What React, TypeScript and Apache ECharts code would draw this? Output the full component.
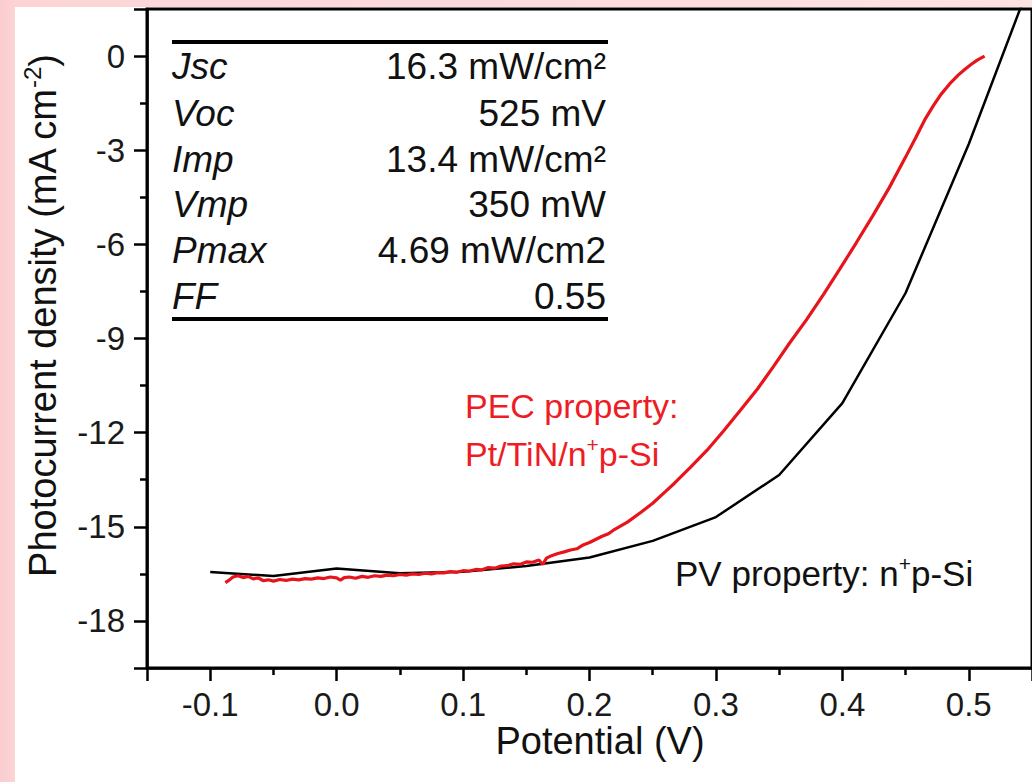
import React, { useEffect, useRef } from "react";
import * as echarts from "echarts";

// PV property: n+p-Si (black, piecewise)
const pvPotential = [-0.1, -0.05, 0, 0.05, 0.1, 0.15, 0.2, 0.25, 0.3, 0.35, 0.4, 0.45, 0.5, 0.55];
const pvCurrent = [-16.44, -16.57, -16.33, -16.48, -16.43, -16.25, -15.98, -15.45, -14.69, -13.35, -11.06, -7.55, -2.8, 2.5];

// PEC property: Pt/TiN/n+p-Si (red, measured)
const pecPotential = [
  -0.088, -0.085, -0.082, -0.078, -0.074, -0.07, -0.066, -0.062, -0.058, -0.054,
  -0.05, -0.045, -0.04, -0.035, -0.03, -0.025, -0.02, -0.015, -0.01, -0.005,
  0.0, 0.003, 0.006, 0.01, 0.015, 0.02, 0.025, 0.03, 0.035, 0.04,
  0.045, 0.05, 0.055, 0.06, 0.065, 0.07, 0.075, 0.08, 0.085, 0.09,
  0.095, 0.1, 0.105, 0.11, 0.115, 0.12, 0.125, 0.13, 0.135, 0.14,
  0.145, 0.15, 0.155, 0.16, 0.163, 0.166, 0.17, 0.175, 0.18, 0.185,
  0.19, 0.195, 0.2, 0.21, 0.215, 0.22, 0.23, 0.241, 0.25, 0.26,
  0.267, 0.28, 0.293, 0.306, 0.3195, 0.333, 0.3456, 0.358, 0.3717, 0.385,
  0.3978, 0.411, 0.4239, 0.437, 0.45, 0.458, 0.4656, 0.472, 0.478, 0.485,
  0.4918, 0.497, 0.502, 0.507, 0.5125,
];
const pecCurrent = [
  -16.78, -16.7, -16.6, -16.56, -16.62, -16.58, -16.66, -16.63, -16.72, -16.69,
  -16.73, -16.68, -16.71, -16.67, -16.69, -16.65, -16.67, -16.63, -16.65, -16.6,
  -16.63, -16.7, -16.62, -16.6, -16.64, -16.58, -16.61, -16.56, -16.58, -16.54,
  -16.56, -16.52, -16.54, -16.5, -16.52, -16.48, -16.5, -16.46, -16.47, -16.43,
  -16.45, -16.4, -16.41, -16.36, -16.37, -16.3, -16.32, -16.25, -16.24, -16.18,
  -16.2, -16.12, -16.13, -16.06, -16.2, -16.0, -15.92, -15.85, -15.8, -15.74,
  -15.7, -15.58, -15.5, -15.3, -15.22, -15.08, -14.85, -14.53, -14.25, -13.88,
  -13.62, -13.1, -12.56, -11.95, -11.28, -10.6, -9.89, -9.16, -8.4, -7.6,
  -6.8, -5.95, -5.1, -4.2, -3.22, -2.6, -2.0, -1.58, -1.22, -0.88,
  -0.6, -0.42, -0.26, -0.12, 0.0,
];

const tableLabels = ["Jsc", "Voc", "Imp", "Vmp", "Pmax", "FF"];
const tableValues = ["16.3 mW/cm\u00B2", "525 mV", "13.4 mW/cm\u00B2", "350 mW", "4.69 mW/cm2", "0.55"];

const xTitle = "Potential (V)";
const yTitle = "Photocurrent density (mA cm{sup|-2})";
const pecNote1 = "PEC property:";
const pecNote2 = "Pt/TiN/n{sup|+}p-Si";
const pvNote = "PV property: n{sup|+}p-Si";

const FONT = '"Liberation Sans", Arial, Helvetica, sans-serif';

export default function App() {
  const ref = useRef<HTMLDivElement>(null);

  useEffect(() => {
    if (!ref.current) return;
    const chart = echarts.init(ref.current, null, { renderer: "svg" });

    const gridLeft = 147;
    const gridTop = 9;
    const gridWidth = 894;
    const gridHeight = 659;

    const tableX1 = 172;
    const tableX2 = 608;
    const rowMid = [66, 113, 159, 204, 250, 296];
    const tableFont = 37;

    const graphics: any[] = [
      { type: "line", shape: { x1: tableX1, y1: 42, x2: tableX2, y2: 42 }, style: { stroke: "#000", lineWidth: 4 }, z: 10 },
      { type: "line", shape: { x1: tableX1, y1: 319, x2: tableX2, y2: 319 }, style: { stroke: "#000", lineWidth: 4 }, z: 10 },
    ];
    tableLabels.forEach((lab, i) => {
      graphics.push({
        type: "text", x: tableX1, y: rowMid[i], z: 10,
        style: { text: lab, fill: "#111", fontFamily: FONT, fontSize: tableFont, fontStyle: "italic", textAlign: "left", textVerticalAlign: "middle" },
      });
      graphics.push({
        type: "text", x: tableX2 - 2, y: rowMid[i], z: 10,
        style: { text: tableValues[i], fill: "#111", fontFamily: FONT, fontSize: tableFont, textAlign: "right", textVerticalAlign: "middle" },
      });
    });

    const supRich = (color: string) => ({
      sup: { fontSize: 21, fontFamily: FONT, fill: color, verticalAlign: "top", lineHeight: 20 },
    });

    graphics.push(
      {
        type: "text", x: 465, y: 406, z: 10,
        style: { text: pecNote1, fill: "#ee1c24", fontFamily: FONT, fontSize: 34, textAlign: "left", textVerticalAlign: "middle" },
      },
      {
        type: "text", x: 465, y: 454, z: 10,
        style: { text: pecNote2, fill: "#ee1c24", fontFamily: FONT, fontSize: 34, lineHeight: 40, textAlign: "left", textVerticalAlign: "middle", rich: supRich("#ee1c24") },
      },
      {
        type: "text", x: 675, y: 573, z: 10,
        style: { text: pvNote, fill: "#111", fontFamily: FONT, fontSize: 35, lineHeight: 40, textAlign: "left", textVerticalAlign: "middle", rich: supRich("#111") },
      },
      {
        type: "text", x: 600, y: 741, z: 10,
        style: { text: xTitle, fill: "#111", fontFamily: FONT, fontSize: 38, textAlign: "center", textVerticalAlign: "middle" },
      },
      {
        type: "text", x: 43, y: 316, rotation: Math.PI / 2, z: 10,
        style: {
          text: yTitle, fill: "#111", fontFamily: FONT, fontSize: 38, lineHeight: 46, textAlign: "center", textVerticalAlign: "middle",
          rich: { sup: { fontSize: 24, fontFamily: FONT, fill: "#111", verticalAlign: "top", lineHeight: 24 } },
        },
      }
    );

    const axisCommon = {
      axisLine: { show: true, onZero: false, lineStyle: { color: "#000", width: 2.5 } },
      axisTick: { show: true, inside: false, length: 13, lineStyle: { color: "#000", width: 2.5 } },
      minorTick: { show: true, splitNumber: 2, length: 7, lineStyle: { color: "#000", width: 2.5 } },
      splitLine: { show: false },
      minorSplitLine: { show: false },
    };

    chart.setOption({
      animation: false,
      backgroundColor: "transparent",
      grid: {
        left: gridLeft, top: gridTop, width: gridWidth, height: gridHeight,
        show: true, borderColor: "#000", borderWidth: 3, backgroundColor: "transparent",
      },
      xAxis: {
        type: "value",
        min: -0.15,
        max: 0.55,
        splitNumber: 7,
        ...axisCommon,
        axisLabel: {
          show: true, margin: 20, color: "#1a1a1a", fontFamily: FONT, fontSize: 33,
          showMinLabel: false, showMaxLabel: false,
          formatter: (v: number) => v.toFixed(1),
        },
      },
      yAxis: {
        type: "value",
        min: -19.5,
        max: 1.5,
        splitNumber: 7,
        ...axisCommon,
        axisLabel: {
          show: true, margin: 22, color: "#1a1a1a", fontFamily: FONT, fontSize: 33,
          showMinLabel: false, showMaxLabel: false,
          formatter: (v: number) => String(Math.round(v)),
        },
      },
      series: [
        {
          name: "PV property: n+p-Si",
          type: "line",
          data: pvPotential.map((v, i) => [v, pvCurrent[i]]),
          showSymbol: false,
          symbol: "none",
          clip: true,
          lineStyle: { color: "#000", width: 2.5 },
          z: 3,
        },
        {
          name: "PEC property: Pt/TiN/n+p-Si",
          type: "line",
          data: pecPotential.map((v, i) => [v, pecCurrent[i]]),
          showSymbol: false,
          symbol: "none",
          clip: true,
          lineStyle: { color: "#e8141c", width: 3.2 },
          z: 4,
        },
      ],
      graphic: graphics,
    });

    return () => chart.dispose();
  }, []);

  return (
    <div
      style={{
        position: "fixed", left: 0, top: 0, width: 1032, height: 782, overflow: "hidden",
        background: "linear-gradient(to right, #fbcdd0 0px, #fcd4d6 15px, #fde2e3 100%)",
      }}
    >
      <div style={{ position: "absolute", left: 15, top: 7, right: 0, bottom: 0, background: "#ffffff" }} />
      <div ref={ref} style={{ position: "absolute", left: 0, top: 0, width: 1032, height: 782 }} />
    </div>
  );
}
